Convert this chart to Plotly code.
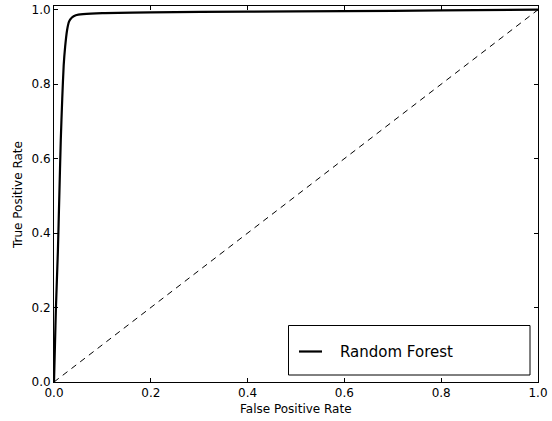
import plotly.graph_objects as go

# ROC curve data
fpr = [0.0, 0.002, 0.004, 0.008, 0.011, 0.014, 0.017, 0.020, 0.023, 0.027,
       0.031, 0.037, 0.045, 0.060, 0.100, 0.200, 0.400, 0.600, 0.800, 1.0]
tpr = [0.0, 0.10, 0.20, 0.35, 0.50, 0.65, 0.76, 0.85, 0.90, 0.945,
       0.968, 0.979, 0.985, 0.988, 0.991, 0.993, 0.995, 0.996, 0.998, 1.0]
chance_x = [0.0, 1.0]
chance_y = [0.0, 1.0]
series_name = "Random Forest"
x_title = "False Positive Rate"
y_title = "True Positive Rate"
tick_vals = [0.0, 0.2, 0.4, 0.6, 0.8, 1.0]
tick_text = ["0.0", "0.2", "0.4", "0.6", "0.8", "1.0"]

FONT = "DejaVu Sans"
L, R, T, B = 54, 538, 6, 382
W, H = 552, 421
pw, ph = R - L, B - T

def px_x(x):
    return (x - L) / pw

def px_y(y):
    return (B - y) / ph

fig = go.Figure()
fig.add_trace(go.Scatter(x=chance_x, y=chance_y, mode="lines",
                         line=dict(color="black", width=1, dash="6px,5px"),
                         showlegend=False, hoverinfo="skip"))
fig.add_trace(go.Scatter(x=fpr, y=tpr, mode="lines", name=series_name,
                         line=dict(color="black", width=2.2, shape="spline", smoothing=0.6),
                         showlegend=False))

axis_common = dict(
    showgrid=False, zeroline=False, showline=True, linecolor="black", linewidth=1,
    mirror="ticks", ticks="inside", ticklen=4, tickwidth=1, tickcolor="black",
    tickvals=tick_vals, ticktext=tick_text, automargin=False,
    tickfont=dict(family=FONT, size=12, color="black"),
)

fig.update_xaxes(range=[0, 1], **axis_common)
fig.update_yaxes(range=[0, 1.01], **axis_common)

# Axis titles
fig.add_annotation(xref="paper", yref="paper", x=px_x(296), y=px_y(409),
                   text=x_title, showarrow=False, xanchor="center", yanchor="middle",
                   font=dict(family=FONT, size=12, color="black"))
fig.add_annotation(xref="paper", yref="paper", x=px_x(18), y=px_y(195),
                   text=y_title, showarrow=False, xanchor="center", yanchor="middle",
                   textangle=-90, font=dict(family=FONT, size=12, color="black"))

# Legend box drawn manually (matplotlib-style)
fig.add_shape(type="rect", xref="paper", yref="paper",
              x0=px_x(288.5), x1=px_x(530), y0=px_y(375), y1=px_y(325.5),
              line=dict(color="black", width=1), fillcolor="white", layer="above")
fig.add_shape(type="line", xref="paper", yref="paper",
              x0=px_x(299), x1=px_x(322), y0=px_y(351.5), y1=px_y(351.5),
              line=dict(color="black", width=2.2), layer="above")
fig.add_annotation(xref="paper", yref="paper", x=px_x(338), y=px_y(351.5),
                   text=series_name, showarrow=False, xanchor="left", yanchor="middle",
                   font=dict(family=FONT, size=15, color="black"))

fig.update_layout(
    width=W, height=H,
    margin=dict(l=L, r=W - R, t=T, b=H - B),
    paper_bgcolor="white", plot_bgcolor="white",
    font=dict(family=FONT, size=12, color="black"),
    showlegend=False,
)

fig.write_html("out.html", config={"displayModeBar": False},
               post_script="document.body.style.margin='0';document.body.style.overflow='hidden';")
